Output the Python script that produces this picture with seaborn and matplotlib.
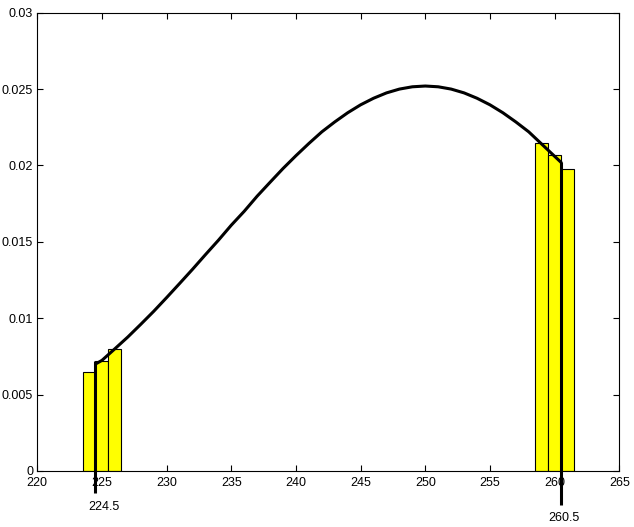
import numpy as np
import pandas as pd
import matplotlib
matplotlib.use("Agg")
import matplotlib.pyplot as plt
import seaborn as sns

# histogram bars (two tails)
bar_x = [224, 225, 226, 259, 260, 261]
bar_h = [0.0065, 0.0072, 0.0080, 0.0215, 0.0207, 0.0198]

# curve
curve_x = [224.5, 225, 226, 227, 228, 229, 230, 231, 232, 233, 234, 235, 236,
           237, 238, 239, 240, 241, 242, 243, 244, 245, 246, 247, 248, 249,
           250, 251, 252, 253, 254, 255, 256, 257, 258, 259, 260, 260.5]
curve_y = [0.0070, 0.00724, 0.0080, 0.00877, 0.0096, 0.01045, 0.01135,
           0.01227, 0.0132, 0.01416, 0.0151, 0.01609, 0.0170, 0.01799, 0.0189,
           0.0198, 0.02064, 0.02144, 0.0222, 0.02285, 0.02345, 0.02397, 0.0244,
           0.02475, 0.0250, 0.02515, 0.0252, 0.02515, 0.0250, 0.02475, 0.0244,
           0.02397, 0.02345, 0.02285, 0.0222, 0.0214, 0.0206, 0.0202]

# marked cut points
cut_x = [224.5, 260.5]
cut_top = [0.0072, 0.0202]
cut_bottom = [-0.00144, -0.00223]
cut_labels = ["224.5", "260.5"]
label_x = [225.14, 260.73]
label_y = [-0.00239, -0.00305]

xticks = [220, 225, 230, 235, 240, 245, 250, 255, 260, 265]
yticks = [0, 0.005, 0.01, 0.015, 0.02, 0.025, 0.03]
ytick_labels = ["0", "0.005", "0.01", "0.015", "0.02", "0.025", "0.03"]

sns.set_style("ticks")
plt.rcParams['font.family'] = ['Liberation Sans', 'DejaVu Sans']

fig = plt.figure(figsize=(6.34, 5.27), dpi=100)
ax = fig.add_axes([0.0588, 0.1063, 0.918, 0.8696])

bars = pd.DataFrame({"x": bar_x, "h": bar_h})
sns.barplot(data=bars, x="x", y="h", native_scale=True, width=1.0,
            color="#ffff00", saturation=1, edgecolor="black", linewidth=0.8,
            ax=ax, zorder=2)

curve = pd.DataFrame({"x": curve_x, "y": curve_y})
sns.lineplot(data=curve, x="x", y="y", color="black", linewidth=2.2,
             ax=ax, zorder=3, sort=False)

for xc, top, bot in zip(cut_x, cut_top, cut_bottom):
    ax.plot([xc, xc], [top, bot], color="black", linewidth=2.2,
            clip_on=False, zorder=4, solid_capstyle="butt")
for lx, ly, lab in zip(label_x, label_y, cut_labels):
    ax.text(lx, ly, lab, ha="center", va="center", fontsize=9,
            color="black", clip_on=False)

ax.set_xlim(220, 265)
ax.set_ylim(0, 0.03)
ax.set_xticks(xticks)
ax.set_xticklabels([str(t) for t in xticks])
ax.set_yticks(yticks)
ax.set_yticklabels(ytick_labels)
ax.tick_params(direction="in", top=True, right=True, length=4, width=0.8,
               labelsize=9, colors="black")
ax.tick_params(axis="x", pad=4.5)
ax.tick_params(axis="y", pad=3)
for s in ax.spines.values():
    s.set_visible(True)
    s.set_linewidth(0.8)
    s.set_color("black")
ax.set_xlabel("")
ax.set_ylabel("")

fig.savefig("out.png", dpi=100)
